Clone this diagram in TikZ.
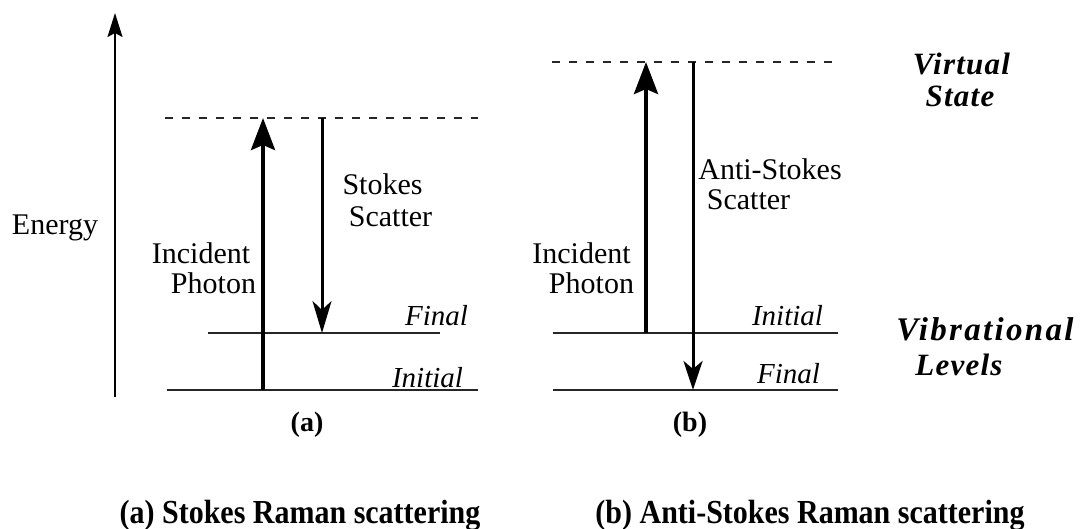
\documentclass[tikz,border=0pt]{standalone}
\usepackage{fontspec}
\usepackage{graphicx}
\setmainfont{Liberation Serif}
\newfontfamily\lsA[LetterSpace=4]{Liberation Serif}
\newfontfamily\lsB[LetterSpace=7]{Liberation Serif}
\usetikzlibrary{arrows.meta}
\begin{document}
\begin{tikzpicture}[x=1pt,y=-1pt,
  lbl/.style={inner sep=0pt, anchor=base, font=\fontsize{30}{36}\selectfont},
  ilbl/.style={inner sep=0pt, anchor=base, font=\itshape\fontsize{29}{35}\selectfont},
  bilbl/.style={inner sep=0pt, anchor=base, font=\lsA\bfseries\itshape\fontsize{31}{37}\selectfont},
  bilblw/.style={inner sep=0pt, anchor=base, font=\lsB\bfseries\itshape\fontsize{33}{39}\selectfont},
  tag/.style={inner sep=0pt, anchor=base, font=\bfseries\fontsize{28}{34}\selectfont},
  capt/.style={inner sep=0pt, anchor=base, font=\bfseries\fontsize{30}{36}\selectfont},
  level/.style={line width=2pt, black!85},
  virt/.style={line width=2pt, black!85, dash pattern=on 8pt off 9pt},
  photon/.style={line width=4pt, -{Stealth[length=32pt,width=24pt,inset=5pt]}},
  scat/.style={line width=3pt, -{Stealth[length=32pt,width=19pt,inset=9pt]}},
  ascat/.style={line width=3pt, -{Stealth[length=29pt,width=19pt,inset=8pt]}},
  axis/.style={line width=2pt, -{Stealth[length=24pt,width=15pt,inset=4pt]}}
]
\useasboundingbox (0,0) rectangle (1086,529);

% energy axis
\coordinate (e0) at (115,397);
\coordinate (e1) at (115,13);
\draw[axis] (e0) -- (e1);
\node[lbl] (energy) at (55,235) {Energy};

% ---------- panel (a)
\coordinate (vaL) at (165,118); \coordinate (vaR) at (478,118);
\coordinate (faL) at (208,333); \coordinate (faR) at (440,333);
\coordinate (iaL) at (167,390); \coordinate (iaR) at (478,390);
\draw[virt] (vaL) -- (vaR);
\draw[level] (faL) -- (faR);
\draw[level] (iaL) -- (iaR);
\coordinate (pa0) at (263,390); \coordinate (pa1) at (263,118);
\coordinate (sa0) at (322,118); \coordinate (sa1) at (322,333);
\draw[photon] (pa0) -- (pa1);
\draw[scat] (sa0) -- (sa1);
\node[lbl] (stokesA) at (382.5,195) {Stokes};
\node[lbl] (scatA) at (390.5,227) {Scatter};
\node[lbl] (incA) at (201,264) {Incident};
\node[lbl] (phoA) at (213.5,293) {Photon};
\node[ilbl] (finA) at (436.5,325) {Final};
\node[ilbl] (iniA) at (427.5,387) {Initial};
\node[tag] (tagA) at (307,431) {(a)};

% ---------- panel (b)
\coordinate (vbL) at (552,62); \coordinate (vbR) at (835,62);
\coordinate (ibL) at (553,333); \coordinate (ibR) at (838,333);
\coordinate (fbL) at (553,390); \coordinate (fbR) at (838,390);
\draw[virt] (vbL) -- (vbR);
\draw[level] (ibL) -- (ibR);
\draw[level] (fbL) -- (fbR);
\coordinate (pb0) at (646,333); \coordinate (pb1) at (646,62);
\coordinate (sb0) at (693,62); \coordinate (sb1) at (693,390);
\draw[photon] (pb0) -- (pb1);
\draw[ascat] (sb0) -- (sb1);
\node[lbl] (astokesB) at (770,180) {Anti-Stokes};
\node[lbl] (scatB) at (748.5,210) {Scatter};
\node[lbl] (incB) at (581.5,263) {Incident};
\node[lbl] (phoB) at (591.5,293) {Photon};
\node[ilbl] (iniB) at (787.5,325) {Initial};
\node[ilbl] (finB) at (788.5,383) {Final};
\node[tag] (tagB) at (690,431) {(b)};

% right-hand labels
\node[bilbl] (virtual) at (961.5,75) {Virtual};
\node[bilbl] (state) at (960,107) {State};
\node[bilblw] (vibr) at (985,340) {Vibrational};
\node[bilbl] (levels) at (959,375) {Levels};

% captions
\node[capt] (captA) at (300,523) {\scalebox{1}[1.12]{(a) Stokes Raman scattering}};
\node[capt] (captB) at (810,523) {\scalebox{1}[1.12]{(b) Anti-Stokes Raman scattering}};
\end{tikzpicture}
\end{document}
